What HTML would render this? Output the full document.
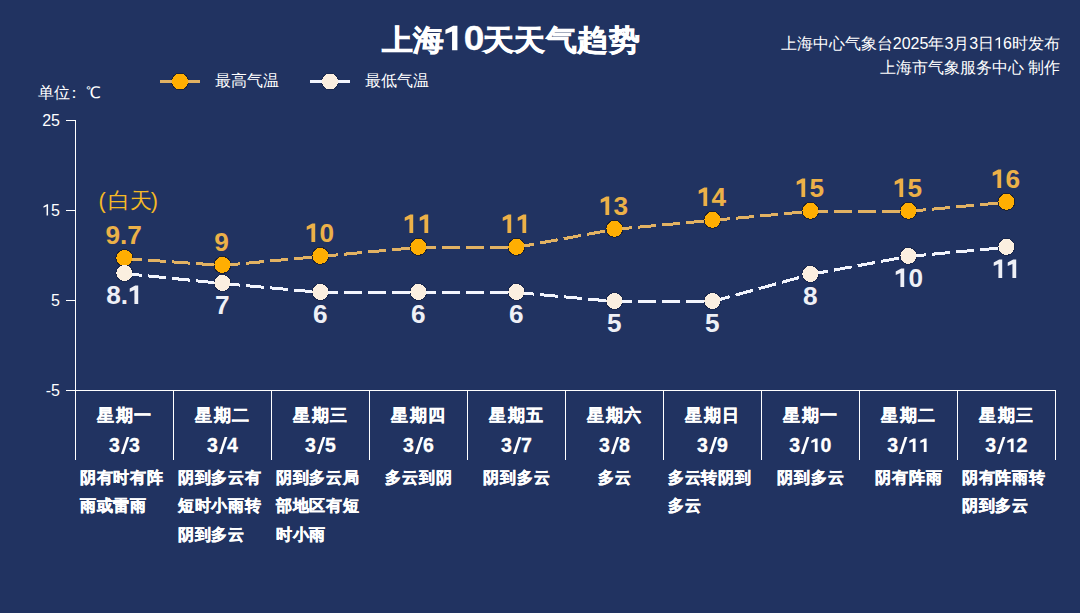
<!DOCTYPE html>
<html><head><meta charset="utf-8"><style>
*{margin:0;padding:0;box-sizing:border-box}
html,body{width:1080px;height:613px;overflow:hidden;background:#213361;font-family:"Liberation Sans",sans-serif;color:#fff}
div{position:absolute;white-space:nowrap}
svg{position:absolute;left:0;top:0}
.g1,.gs{-webkit-text-fill-color:transparent;-webkit-text-stroke-width:0}
.gs{display:inline-block;width:.43em;text-align:center}
svg.sl{position:static;display:inline-block;margin-left:-.43em;width:.43em;height:.875em;vertical-align:-.09em;fill:currentColor;overflow:visible}
svg.d1{position:static;display:inline-block;margin-left:-.556em;width:.556em;height:.725em;vertical-align:baseline;fill:currentColor;overflow:visible}
.title{left:311px;width:400px;top:20px;text-align:center;font-size:31px;letter-spacing:.5px;font-weight:bold;line-height:40px;-webkit-text-stroke:0.7px #fff;transform:scaleY(.94);transform-origin:50% 35.7px}
.r1,.r2{right:20px;font-size:16px;line-height:20px;text-align:right}
.r1{top:34px} .r2{top:58px}
.leg{font-size:16px;line-height:20px;top:71px}
.unit{left:38px;top:83px;font-size:16px;line-height:20px}
.yl{left:20px;width:40px;text-align:right;font-size:16px;line-height:20px}
.lab{width:80px;text-align:center;font-size:26.2px;font-weight:bold;line-height:30px}
.hl{color:#ecb148} .ll{color:#eef0f6}
.day{top:403.3px;width:98px;text-align:center;font-size:17.2px;letter-spacing:1.6px;text-indent:1.6px;font-weight:bold;line-height:24px;-webkit-text-stroke:0.4px #fff}
.date{top:433px;width:98px;text-align:center;font-size:19.5px;font-weight:bold;line-height:24px;letter-spacing:0.6px;text-indent:0.6px;-webkit-text-stroke:0.3px #fff}
.desc{top:462.8px;width:98px;text-align:center;font-size:16.2px;letter-spacing:0.8px;font-weight:bold;line-height:28.6px;-webkit-text-stroke:0.4px #fff}
.desc span{display:inline-block;text-align:left}
.bt{left:98.5px;top:188.2px;font-size:21.5px;line-height:26px;color:#f4b825}
</style></head><body>
<svg width="1080" height="613" viewBox="0 0 1080 613" shape-rendering="crispEdges">
<line x1="75.5" y1="120" x2="75.5" y2="391" stroke="#fff" stroke-width="1"/>
<line x1="66" y1="120.5" x2="75.5" y2="120.5" stroke="#fff" stroke-width="1"/>
<line x1="66" y1="210.5" x2="75.5" y2="210.5" stroke="#fff" stroke-width="1"/>
<line x1="66" y1="300.5" x2="75.5" y2="300.5" stroke="#fff" stroke-width="1"/>
<line x1="66" y1="390.5" x2="1056" y2="390.5" stroke="#fff" stroke-width="1"/>
<line x1="75.5" y1="390.5" x2="75.5" y2="460" stroke="#fff" stroke-width="1"/>
<line x1="173.5" y1="390.5" x2="173.5" y2="460" stroke="#fff" stroke-width="1"/>
<line x1="271.5" y1="390.5" x2="271.5" y2="460" stroke="#fff" stroke-width="1"/>
<line x1="369.5" y1="390.5" x2="369.5" y2="460" stroke="#fff" stroke-width="1"/>
<line x1="467.5" y1="390.5" x2="467.5" y2="460" stroke="#fff" stroke-width="1"/>
<line x1="565.5" y1="390.5" x2="565.5" y2="460" stroke="#fff" stroke-width="1"/>
<line x1="663.5" y1="390.5" x2="663.5" y2="460" stroke="#fff" stroke-width="1"/>
<line x1="761.5" y1="390.5" x2="761.5" y2="460" stroke="#fff" stroke-width="1"/>
<line x1="859.5" y1="390.5" x2="859.5" y2="460" stroke="#fff" stroke-width="1"/>
<line x1="957.5" y1="390.5" x2="957.5" y2="460" stroke="#fff" stroke-width="1"/>
<line x1="1055.5" y1="390.5" x2="1055.5" y2="460" stroke="#fff" stroke-width="1"/>
<circle cx="124.40" cy="257.98" r="9" fill="rgba(25,18,5,0.5)"/>
<circle cx="222.40" cy="264.92" r="9" fill="rgba(25,18,5,0.5)"/>
<circle cx="320.40" cy="255.91" r="9" fill="rgba(25,18,5,0.5)"/>
<circle cx="418.40" cy="246.89" r="9" fill="rgba(25,18,5,0.5)"/>
<circle cx="516.40" cy="246.89" r="9" fill="rgba(25,18,5,0.5)"/>
<circle cx="614.40" cy="228.87" r="9" fill="rgba(25,18,5,0.5)"/>
<circle cx="712.40" cy="219.85" r="9" fill="rgba(25,18,5,0.5)"/>
<circle cx="810.40" cy="210.84" r="9" fill="rgba(25,18,5,0.5)"/>
<circle cx="908.40" cy="210.84" r="9" fill="rgba(25,18,5,0.5)"/>
<circle cx="1006.40" cy="201.83" r="9" fill="rgba(25,18,5,0.5)"/>
<circle cx="124.40" cy="273.03" r="9" fill="rgba(10,15,35,0.3)"/>
<circle cx="222.40" cy="282.94" r="9" fill="rgba(10,15,35,0.3)"/>
<circle cx="320.40" cy="291.96" r="9" fill="rgba(10,15,35,0.3)"/>
<circle cx="418.40" cy="291.96" r="9" fill="rgba(10,15,35,0.3)"/>
<circle cx="516.40" cy="291.96" r="9" fill="rgba(10,15,35,0.3)"/>
<circle cx="614.40" cy="300.97" r="9" fill="rgba(10,15,35,0.3)"/>
<circle cx="712.40" cy="300.97" r="9" fill="rgba(10,15,35,0.3)"/>
<circle cx="810.40" cy="273.93" r="9" fill="rgba(10,15,35,0.3)"/>
<circle cx="908.40" cy="255.91" r="9" fill="rgba(10,15,35,0.3)"/>
<circle cx="1006.40" cy="246.89" r="9" fill="rgba(10,15,35,0.3)"/>
<path transform="translate(0,0.5)" d="M124.40,257.98 L222.40,264.92" fill="none" stroke="#e2b263" stroke-width="3" stroke-dasharray="18 6"/>
<path transform="translate(0,0.5)" d="M222.40,264.92 L320.40,255.91" fill="none" stroke="#e2b263" stroke-width="3" stroke-dasharray="18 6"/>
<path transform="translate(0,0.5)" d="M320.40,255.91 L418.40,246.89" fill="none" stroke="#e2b263" stroke-width="3" stroke-dasharray="18 6"/>
<path transform="translate(0,0.5)" d="M418.40,246.89 L516.40,246.89" fill="none" stroke="#e2b263" stroke-width="3" stroke-dasharray="18 6"/>
<path transform="translate(0,0.5)" d="M516.40,246.89 L614.40,228.87" fill="none" stroke="#e2b263" stroke-width="3" stroke-dasharray="18 6"/>
<path transform="translate(0,0.5)" d="M614.40,228.87 L712.40,219.85" fill="none" stroke="#e2b263" stroke-width="3" stroke-dasharray="18 6"/>
<path transform="translate(0,0.5)" d="M712.40,219.85 L810.40,210.84" fill="none" stroke="#e2b263" stroke-width="3" stroke-dasharray="18 6"/>
<path transform="translate(0,0.5)" d="M810.40,210.84 L908.40,210.84" fill="none" stroke="#e2b263" stroke-width="3" stroke-dasharray="18 6"/>
<path transform="translate(0,0.5)" d="M908.40,210.84 L1006.40,201.83" fill="none" stroke="#e2b263" stroke-width="3" stroke-dasharray="18 6"/>
<path transform="translate(0,0.5)" d="M124.40,273.03 L222.40,282.94" fill="none" stroke="#f3f5fd" stroke-width="3" stroke-dasharray="18 6"/>
<path transform="translate(0,0.5)" d="M222.40,282.94 L320.40,291.96" fill="none" stroke="#f3f5fd" stroke-width="3" stroke-dasharray="18 6"/>
<path transform="translate(0,0.5)" d="M320.40,291.96 L418.40,291.96" fill="none" stroke="#f3f5fd" stroke-width="3" stroke-dasharray="18 6"/>
<path transform="translate(0,0.5)" d="M418.40,291.96 L516.40,291.96" fill="none" stroke="#f3f5fd" stroke-width="3" stroke-dasharray="18 6"/>
<path transform="translate(0,0.5)" d="M516.40,291.96 L614.40,300.97" fill="none" stroke="#f3f5fd" stroke-width="3" stroke-dasharray="18 6"/>
<path transform="translate(0,0.5)" d="M614.40,300.97 L712.40,300.97" fill="none" stroke="#f3f5fd" stroke-width="3" stroke-dasharray="18 6"/>
<path transform="translate(0,0.5)" d="M712.40,300.97 L810.40,273.93" fill="none" stroke="#f3f5fd" stroke-width="3" stroke-dasharray="18 6"/>
<path transform="translate(0,0.5)" d="M810.40,273.93 L908.40,255.91" fill="none" stroke="#f3f5fd" stroke-width="3" stroke-dasharray="18 6"/>
<path transform="translate(0,0.5)" d="M908.40,255.91 L1006.40,246.89" fill="none" stroke="#f3f5fd" stroke-width="3" stroke-dasharray="18 6"/>
<circle cx="124.40" cy="257.98" r="8" fill="#ffae02"/>
<circle cx="222.40" cy="264.92" r="8" fill="#ffae02"/>
<circle cx="320.40" cy="255.91" r="8" fill="#ffae02"/>
<circle cx="418.40" cy="246.89" r="8" fill="#ffae02"/>
<circle cx="516.40" cy="246.89" r="8" fill="#ffae02"/>
<circle cx="614.40" cy="228.87" r="8" fill="#ffae02"/>
<circle cx="712.40" cy="219.85" r="8" fill="#ffae02"/>
<circle cx="810.40" cy="210.84" r="8" fill="#ffae02"/>
<circle cx="908.40" cy="210.84" r="8" fill="#ffae02"/>
<circle cx="1006.40" cy="201.83" r="8" fill="#ffae02"/>
<circle cx="124.40" cy="273.03" r="8" fill="#fbefe0"/>
<circle cx="222.40" cy="282.94" r="8" fill="#fbefe0"/>
<circle cx="320.40" cy="291.96" r="8" fill="#fbefe0"/>
<circle cx="418.40" cy="291.96" r="8" fill="#fbefe0"/>
<circle cx="516.40" cy="291.96" r="8" fill="#fbefe0"/>
<circle cx="614.40" cy="300.97" r="8" fill="#fbefe0"/>
<circle cx="712.40" cy="300.97" r="8" fill="#fbefe0"/>
<circle cx="810.40" cy="273.93" r="8" fill="#fbefe0"/>
<circle cx="908.40" cy="255.91" r="8" fill="#fbefe0"/>
<circle cx="1006.40" cy="246.89" r="8" fill="#fbefe0"/>
<circle cx="180" cy="81.5" r="9" fill="rgba(25,18,5,0.5)"/><circle cx="330" cy="81.5" r="9" fill="rgba(10,15,35,0.3)"/>
<line x1="160" y1="81.5" x2="200" y2="81.5" stroke="#e2b263" stroke-width="3"/>
<circle cx="180" cy="81.5" r="8" fill="#ffae02"/>
<line x1="310" y1="81.5" x2="350" y2="81.5" stroke="#f3f5fd" stroke-width="3"/>
<circle cx="330" cy="81.5" r="8" fill="#fbefe0"/>
</svg>
<div class="title">上海<span style="font-size:37px;line-height:0;letter-spacing:-1.5px;-webkit-text-stroke:0.3px #fff"><span class="g1">1</span><svg class="d1" viewBox="0 -725 556 725"><path d="M390,-703L390,0L245,0L245,-535L66,-462L66,-590L275,-703Z"/></svg>0</span>天天气趋势</div>
<div class="r1">上海中心气象台2025年3月3日<span class="g1">1</span><svg class="d1" viewBox="0 -725 556 725"><path d="M380,-703L380,0L285,0L285,-585L95,-495L95,-590L315,-703Z"/></svg>6时发布</div>
<div class="r2">上海市气象服务中心 制作</div>
<div class="leg" style="left:215px">最高气温</div>
<div class="leg" style="left:365px">最低气温</div>
<div class="unit">单位<span style="position:relative;left:-4px">：</span>℃</div>
<div class="bt">(<span style="margin-left:2.5px">白天</span><span style="margin-left:-1.5px">)</span></div>
<div class="lab hl" style="left:83.6px;top:219.5px">9.7</div>
<div class="lab hl" style="left:181.6px;top:226.9px">9</div>
<div class="lab hl" style="left:279.6px;top:217.9px"><span class="g1">1</span><svg class="d1" viewBox="0 -725 556 725"><path d="M390,-703L390,0L245,0L245,-535L66,-462L66,-590L275,-703Z"/></svg>0</div>
<div class="lab hl" style="left:377.6px;top:208.9px"><span class="g1">1</span><svg class="d1" viewBox="0 -725 556 725"><path d="M390,-703L390,0L245,0L245,-535L66,-462L66,-590L275,-703Z"/></svg><span class="g1">1</span><svg class="d1" viewBox="0 -725 556 725"><path d="M390,-703L390,0L245,0L245,-535L66,-462L66,-590L275,-703Z"/></svg></div>
<div class="lab hl" style="left:475.6px;top:208.9px"><span class="g1">1</span><svg class="d1" viewBox="0 -725 556 725"><path d="M390,-703L390,0L245,0L245,-535L66,-462L66,-590L275,-703Z"/></svg><span class="g1">1</span><svg class="d1" viewBox="0 -725 556 725"><path d="M390,-703L390,0L245,0L245,-535L66,-462L66,-590L275,-703Z"/></svg></div>
<div class="lab hl" style="left:573.6px;top:190.9px"><span class="g1">1</span><svg class="d1" viewBox="0 -725 556 725"><path d="M390,-703L390,0L245,0L245,-535L66,-462L66,-590L275,-703Z"/></svg>3</div>
<div class="lab hl" style="left:671.6px;top:181.9px"><span class="g1">1</span><svg class="d1" viewBox="0 -725 556 725"><path d="M390,-703L390,0L245,0L245,-535L66,-462L66,-590L275,-703Z"/></svg>4</div>
<div class="lab hl" style="left:769.6px;top:172.8px"><span class="g1">1</span><svg class="d1" viewBox="0 -725 556 725"><path d="M390,-703L390,0L245,0L245,-535L66,-462L66,-590L275,-703Z"/></svg>5</div>
<div class="lab hl" style="left:867.6px;top:172.8px"><span class="g1">1</span><svg class="d1" viewBox="0 -725 556 725"><path d="M390,-703L390,0L245,0L245,-535L66,-462L66,-590L275,-703Z"/></svg>5</div>
<div class="lab hl" style="left:965.6px;top:163.8px"><span class="g1">1</span><svg class="d1" viewBox="0 -725 556 725"><path d="M390,-703L390,0L245,0L245,-535L66,-462L66,-590L275,-703Z"/></svg>6</div>
<div class="lab ll" style="left:84.4px;top:280.2px">8.<span class="g1">1</span><svg class="d1" viewBox="0 -725 556 725"><path d="M390,-703L390,0L245,0L245,-535L66,-462L66,-590L275,-703Z"/></svg></div>
<div class="lab ll" style="left:182.4px;top:290.1px">7</div>
<div class="lab ll" style="left:280.4px;top:299.2px">6</div>
<div class="lab ll" style="left:378.4px;top:299.2px">6</div>
<div class="lab ll" style="left:476.4px;top:299.2px">6</div>
<div class="lab ll" style="left:574.4px;top:308.2px">5</div>
<div class="lab ll" style="left:672.4px;top:308.2px">5</div>
<div class="lab ll" style="left:770.4px;top:281.1px">8</div>
<div class="lab ll" style="left:868.4px;top:263.1px"><span class="g1">1</span><svg class="d1" viewBox="0 -725 556 725"><path d="M390,-703L390,0L245,0L245,-535L66,-462L66,-590L275,-703Z"/></svg>0</div>
<div class="lab ll" style="left:966.4px;top:254.1px"><span class="g1">1</span><svg class="d1" viewBox="0 -725 556 725"><path d="M390,-703L390,0L245,0L245,-535L66,-462L66,-590L275,-703Z"/></svg><span class="g1">1</span><svg class="d1" viewBox="0 -725 556 725"><path d="M390,-703L390,0L245,0L245,-535L66,-462L66,-590L275,-703Z"/></svg></div>
<div class="day" style="left:75.4px">星期一</div>
<div class="date" style="left:75.4px">3<span class="gs">/</span><svg class="sl" viewBox="0 -785 430 875"><path d="M430,-785L290,-785L0,90L140,90Z"/></svg>3</div>
<div class="desc" style="left:79.8px;width:90px;text-align:left">阴有时有阵<br>雨或雷雨</div>
<div class="day" style="left:173.4px">星期二</div>
<div class="date" style="left:173.4px">3<span class="gs">/</span><svg class="sl" viewBox="0 -785 430 875"><path d="M430,-785L290,-785L0,90L140,90Z"/></svg>4</div>
<div class="desc" style="left:177.8px;width:90px;text-align:left">阴到多云有<br>短时小雨转<br>阴到多云</div>
<div class="day" style="left:271.4px">星期三</div>
<div class="date" style="left:271.4px">3<span class="gs">/</span><svg class="sl" viewBox="0 -785 430 875"><path d="M430,-785L290,-785L0,90L140,90Z"/></svg>5</div>
<div class="desc" style="left:275.8px;width:90px;text-align:left">阴到多云局<br>部地区有短<br>时小雨</div>
<div class="day" style="left:369.4px">星期四</div>
<div class="date" style="left:369.4px">3<span class="gs">/</span><svg class="sl" viewBox="0 -785 430 875"><path d="M430,-785L290,-785L0,90L140,90Z"/></svg>6</div>
<div class="desc" style="left:369.8px">多云到阴</div>
<div class="day" style="left:467.4px">星期五</div>
<div class="date" style="left:467.4px">3<span class="gs">/</span><svg class="sl" viewBox="0 -785 430 875"><path d="M430,-785L290,-785L0,90L140,90Z"/></svg>7</div>
<div class="desc" style="left:467.8px">阴到多云</div>
<div class="day" style="left:565.4px">星期六</div>
<div class="date" style="left:565.4px">3<span class="gs">/</span><svg class="sl" viewBox="0 -785 430 875"><path d="M430,-785L290,-785L0,90L140,90Z"/></svg>8</div>
<div class="desc" style="left:565.8px">多云</div>
<div class="day" style="left:663.4px">星期日</div>
<div class="date" style="left:663.4px">3<span class="gs">/</span><svg class="sl" viewBox="0 -785 430 875"><path d="M430,-785L290,-785L0,90L140,90Z"/></svg>9</div>
<div class="desc" style="left:667.8px;width:90px;text-align:left">多云转阴到<br>多云</div>
<div class="day" style="left:761.4px">星期一</div>
<div class="date" style="left:761.4px">3<span class="gs">/</span><svg class="sl" viewBox="0 -785 430 875"><path d="M430,-785L290,-785L0,90L140,90Z"/></svg><span class="g1">1</span><svg class="d1" viewBox="0 -725 556 725"><path d="M390,-703L390,0L245,0L245,-535L66,-462L66,-590L275,-703Z"/></svg>0</div>
<div class="desc" style="left:761.8px">阴到多云</div>
<div class="day" style="left:859.4px">星期二</div>
<div class="date" style="left:859.4px">3<span class="gs">/</span><svg class="sl" viewBox="0 -785 430 875"><path d="M430,-785L290,-785L0,90L140,90Z"/></svg><span class="g1">1</span><svg class="d1" viewBox="0 -725 556 725"><path d="M390,-703L390,0L245,0L245,-535L66,-462L66,-590L275,-703Z"/></svg><span class="g1">1</span><svg class="d1" viewBox="0 -725 556 725"><path d="M390,-703L390,0L245,0L245,-535L66,-462L66,-590L275,-703Z"/></svg></div>
<div class="desc" style="left:859.8px">阴有阵雨</div>
<div class="day" style="left:957.4px">星期三</div>
<div class="date" style="left:957.4px">3<span class="gs">/</span><svg class="sl" viewBox="0 -785 430 875"><path d="M430,-785L290,-785L0,90L140,90Z"/></svg><span class="g1">1</span><svg class="d1" viewBox="0 -725 556 725"><path d="M390,-703L390,0L245,0L245,-535L66,-462L66,-590L275,-703Z"/></svg>2</div>
<div class="desc" style="left:961.8px;width:90px;text-align:left">阴有阵雨转<br>阴到多云</div>
<div class="yl" style="top:111px">25</div>
<div class="yl" style="top:201px"><span class="g1">1</span><svg class="d1" viewBox="0 -725 556 725"><path d="M380,-703L380,0L285,0L285,-585L95,-495L95,-590L315,-703Z"/></svg>5</div>
<div class="yl" style="top:291px">5</div>
<div class="yl" style="top:381px">-5</div>
</body></html>
